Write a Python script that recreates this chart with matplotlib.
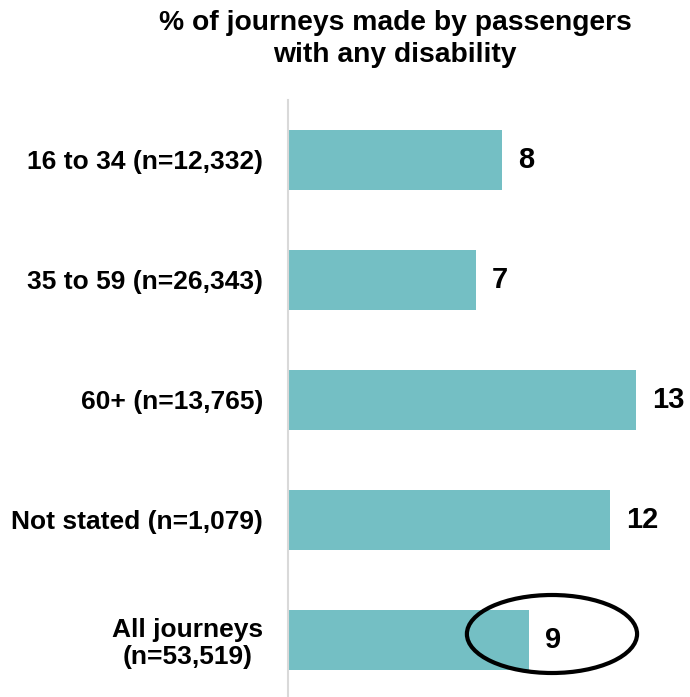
import matplotlib.pyplot as plt
from matplotlib.patches import Ellipse

plt.rcParams['font.family'] = ['Liberation Sans', 'DejaVu Sans']

groups = ['16 to 34 (n=12,332)', '35 to 59 (n=26,343)', '60+ (n=13,765)',
          'Not stated (n=1,079)', 'All journeys\n(n=53,519)']
pct_disabled = [8, 7, 13, 12, 9]

fig = plt.figure(figsize=(6.9, 6.97), dpi=100)
ax = fig.add_axes([288 / 690, 0, 402 / 690, 597 / 697])

ypos = range(len(groups))
ax.barh(ypos, pct_disabled, height=0.5, color='#74bfc4')

for y, v in zip(ypos, pct_disabled):
    ax.text(v + 0.6, y, str(v), va='center', ha='left',
            fontsize=21, fontweight='bold', color='black')

# ring round the overall figure
ax.add_patch(Ellipse((9.85, 3.95), 6.35, 0.65, fill=False,
                     edgecolor='black', linewidth=3, clip_on=False))

ax.set_xlim(0, 15)
ax.set_ylim(4.475, -0.5)
ax.set_yticks(list(ypos))
ax.set_yticklabels(groups, fontsize=19, fontweight='bold')
last = ax.get_yticklabels()[-1]
last.set_multialignment('center')
last.set_linespacing(1.12)
ax.tick_params(axis='y', length=0, pad=18)
ax.set_xticks([])

for side in ['top', 'right', 'bottom']:
    ax.spines[side].set_visible(False)
ax.spines['left'].set_color('#d9d9d9')
ax.spines['left'].set_linewidth(1.5)

fig.text(395 / 690, 1 - 39 / 697,
         '% of journeys made by passengers\nwith any disability',
         ha='center', va='center', fontsize=20.3, fontweight='bold',
         linespacing=1.25)

fig.savefig('out.png', dpi=100)
